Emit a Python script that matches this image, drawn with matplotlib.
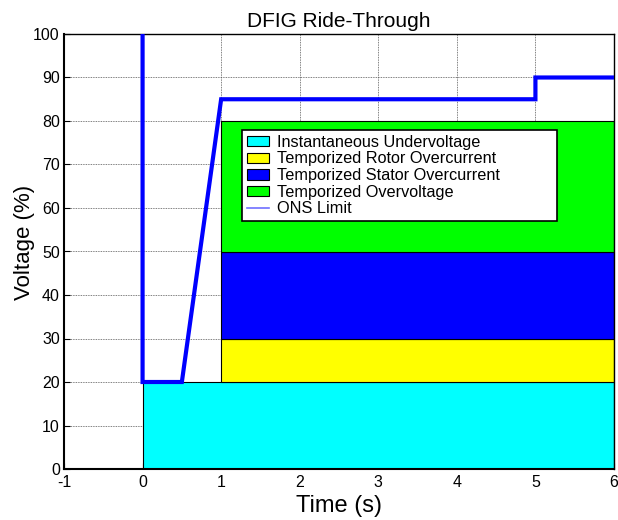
import numpy as np
import matplotlib
matplotlib.use("Agg")
import matplotlib.pyplot as plt
from matplotlib.patches import Rectangle

plt.rcParams['font.family'] = ['Liberation Sans', 'DejaVu Sans']
plt.rcParams['axes.unicode_minus'] = False

# ONS limit curve
ons_t = [0, 0, 0.5, 1, 5, 5, 6]
ons_v = [100, 20, 20, 85, 85, 90, 90]

# protection zones
zone_labels = ['Instantaneous Undervoltage', 'Temporized Rotor Overcurrent',
               'Temporized Stator Overcurrent', 'Temporized Overvoltage']
zone_t0 = [0, 1, 1, 1]
zone_t1 = [6, 6, 6, 6]
zone_v0 = [0, 20, 30, 50]
zone_v1 = [20, 30, 50, 80]
zone_col = ['#00ffff', '#ffff00', '#0000ff', '#00ff00']

fig = plt.figure(figsize=(6.18, 5.2), dpi=100)
ax = fig.add_axes([64/618, 1-469/520, 550/618, 435/520])

handles = []
for lab, a, b, lo, hi, c in zip(zone_labels, zone_t0, zone_t1, zone_v0, zone_v1, zone_col):
    r = Rectangle((a, lo), b-a, hi-lo, facecolor=c, edgecolor='black', linewidth=0.8,
                  zorder=2, label=lab)
    ax.add_patch(r)
    handles.append(r)

ax.plot(ons_t, ons_v, color='#0000ff', linewidth=3, zorder=3, solid_joinstyle='miter')
ons_handle, = ax.plot([], [], color='#7070ff', linewidth=1.2, label='ONS Limit')
handles.append(ons_handle)

ax.set_xlim(-1, 6)
ax.set_ylim(0, 100)
ax.set_xticks(np.arange(-1, 7, 1))
ax.set_yticks(np.arange(0, 101, 10))
ax.grid(True, color='#555555', linestyle=(0, (1, 1)), linewidth=0.6, zorder=0)
ax.set_axisbelow(True)
ax.tick_params(direction='in', labelsize=11.5, length=4, width=0.8, pad=4)
ax.tick_params(axis='y', pad=3)
for s in ax.spines.values():
    s.set_linewidth(1.0)
ax.spines['left'].set_linewidth(1.5)
ax.spines['bottom'].set_linewidth(1.5)

ax.set_title('DFIG Ride-Through', fontsize=15, pad=5)
ax.set_xlabel('Time (s)', fontsize=17, labelpad=4)
ax.set_ylabel('Voltage (%)', fontsize=16)
ax.yaxis.set_label_coords(-0.052, 0.52)

leg = ax.legend(handles=handles, loc='upper left', mode='expand',
                bbox_to_anchor=(242/618, 1-219/520, 315/618, 89/520),
                bbox_transform=fig.transFigure,
                fontsize=11.7, frameon=True, fancybox=False, framealpha=1,
                edgecolor='black', handlelength=1.35, handleheight=0.6,
                labelspacing=0.1, borderpad=0.3, handletextpad=0.5,
                borderaxespad=0)
leg.get_frame().set_linewidth(1.2)
leg.set_zorder(5)

fig.savefig('out.png', dpi=100)
